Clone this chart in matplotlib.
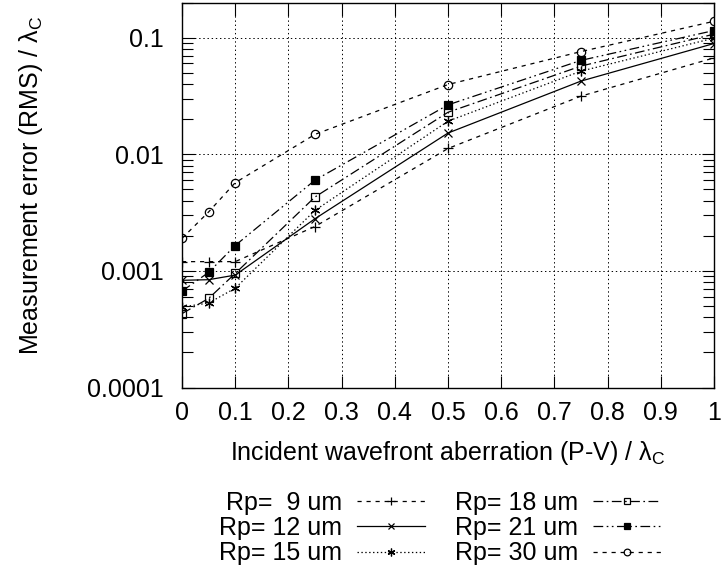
import matplotlib
matplotlib.use('Agg')
import matplotlib.pyplot as plt
from matplotlib.ticker import LogLocator, FixedLocator, NullFormatter

### DATOS ###
aberracion = [0, 0.05, 0.1, 0.25, 0.5, 0.75, 1.0]
rp_9 = [0.0012, 0.0012, 0.0012, 0.0024, 0.0112, 0.0315, 0.067]
rp_12 = [0.00083, 0.00084, 0.00092, 0.0028, 0.0152, 0.0424, 0.089]
rp_15 = [0.00049, 0.00053, 0.00071, 0.0033, 0.0192, 0.0516, 0.099]
rp_18 = [0.00043, 0.00058, 0.00095, 0.0043, 0.0229, 0.057, 0.107]
rp_21 = [0.00067, 0.00097, 0.00165, 0.0060, 0.0265, 0.0638, 0.115]
rp_30 = [0.0019, 0.0032, 0.0057, 0.0148, 0.0396, 0.0759, 0.138]
etiquetas = ['Rp=  9 um', 'Rp= 12 um', 'Rp= 15 um', 'Rp= 18 um', 'Rp= 21 um', 'Rp= 30 um']
xticks = [0, 0.1, 0.2, 0.3, 0.4, 0.5, 0.6, 0.7, 0.8, 0.9, 1.0]
xtick_labels = ['0', '0.1', '0.2', '0.3', '0.4', '0.5', '0.6', '0.7', '0.8', '0.9', '1']
yticks = [0.0001, 0.001, 0.01, 0.1]
ytick_labels = ['0.0001', '0.001', '0.01', '0.1']

### ESTILO ###
plt.rcParams['font.family'] = ['Liberation Sans', 'DejaVu Sans']
plt.rcParams['mathtext.fontset'] = 'custom'
plt.rcParams['mathtext.rm'] = 'Liberation Sans'
plt.rcParams['mathtext.it'] = 'Liberation Sans:italic'
plt.rcParams['lines.scale_dashes'] = False

fig = plt.figure(figsize=(7.24, 5.76), dpi=100)
ax = fig.add_axes([182/724, 1 - 387.5/576, 532/724, 385/576])

series = [rp_9, rp_12, rp_15, rp_18, rp_21, rp_30]
estilos = [
    dict(ls=(0, (3, 3.5)), marker='+', ms=7, mfc='none'),
    dict(ls='-', marker='x', ms=6, mfc='none'),
    dict(ls=(0, (1, 1.8)), marker=(6, 2, 0), ms=7, mfc='none'),
    dict(ls=(0, (7, 2.5, 1.2, 2.5)), marker='s', ms=6, mfc='none'),
    dict(ls=(0, (7, 2.5, 1.2, 2.5, 1.2, 2.5)), marker='s', ms=6, mfc='black'),
    dict(ls=(0, (3, 3.5)), marker='o', ms=6, mfc='none'),
]

for datos, etq, est in zip(series, etiquetas, estilos):
    ax.plot(aberracion, datos, color='black', lw=0.9, mec='black', mew=0.9,
            label=etq, **est)

ax.set_yscale('log')
ax.set_xlim(0, 1)
ax.set_ylim(1e-4, 0.2)

ax.xaxis.set_major_locator(FixedLocator(xticks))
ax.set_xticklabels(xtick_labels)
ax.yaxis.set_major_locator(FixedLocator(yticks))
ax.set_yticklabels(ytick_labels)
ax.yaxis.set_minor_locator(LogLocator(base=10, subs=range(2, 10)))
ax.yaxis.set_minor_formatter(NullFormatter())

ax.tick_params(which='both', direction='in', top=True, right=True,
               labelsize=18, width=0.8, color='black')
ax.tick_params(axis='x', which='major', length=9, pad=10)
ax.tick_params(axis='y', which='major', length=9, pad=13)
ax.tick_params(axis='y', which='minor', length=8)

ax.grid(True, which='major', ls=(0, (1, 2)), color='black', lw=0.7)
for s in ax.spines.values():
    s.set_linewidth(1.0)

fig.text(31/724, 1 - 185/576, 'Measurement error (RMS) / λ$_{\\rm C}$',
         rotation=90, ha='center', va='center', fontsize=18)
fig.text(448/724, 1 - 453/576, 'Incident wavefront aberration (P-V) / λ$_{\\rm C}$',
         ha='center', va='center', fontsize=18)

leg = fig.legend(loc='center', bbox_to_anchor=(440/724, 1 - 528/576), ncol=2,
                 frameon=False, fontsize=18, markerfirst=False, handlelength=2.7,
                 handletextpad=0.6, columnspacing=1.2, labelspacing=0.05,
                 borderpad=0, markerscale=0.8)

plt.savefig('out.png', dpi=100)
